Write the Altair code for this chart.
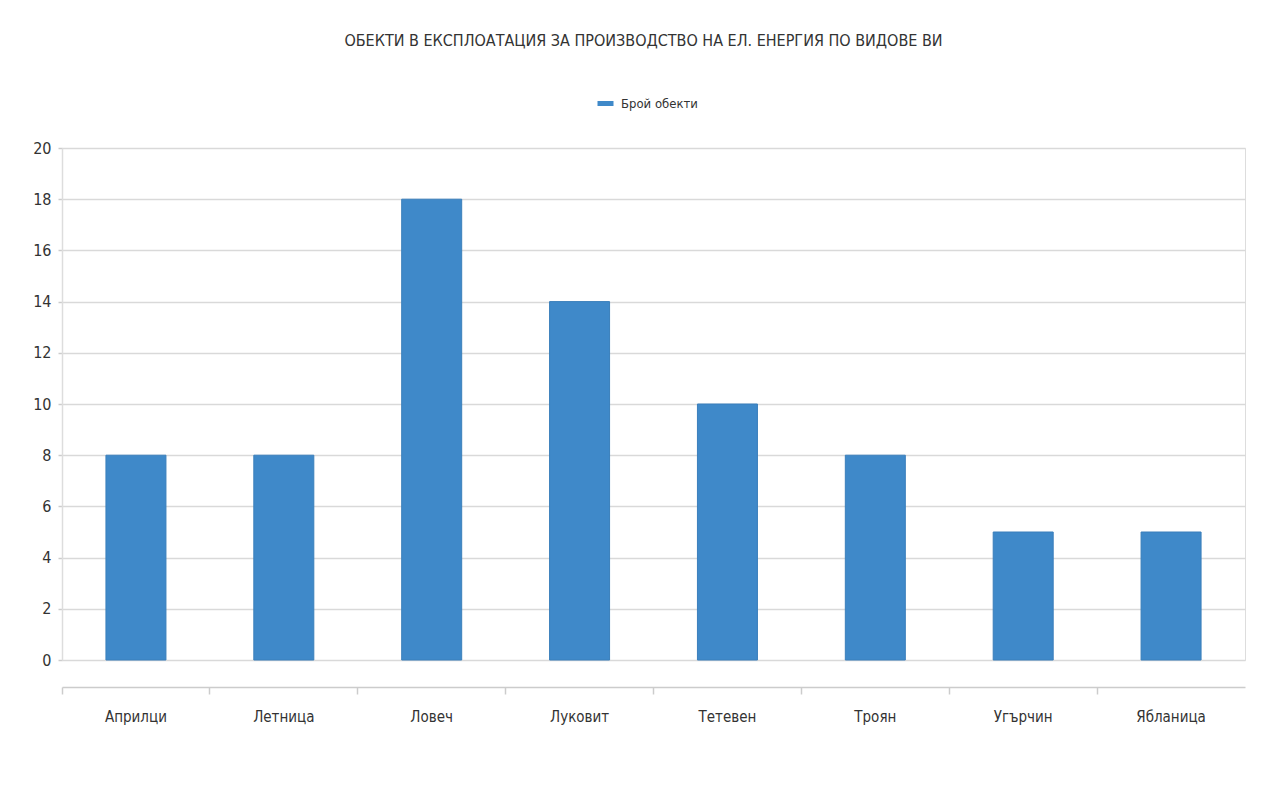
import altair as alt
import pandas as pd

categories = ["Априлци", "Летница", "Ловеч", "Луковит", "Тетевен", "Троян", "Угърчин", "Ябланица"]
values = [8, 8, 18, 14, 10, 8, 5, 5]
series_name = "Брой обекти"
y_ticks = [0, 2, 4, 6, 8, 10, 12, 14, 16, 18, 20]
title_text = "ОБЕКТИ В ЕКСПЛОАТАЦИЯ ЗА ПРОИЗВОДСТВО НА ЕЛ. ЕНЕРГИЯ ПО ВИДОВЕ ВИ"

df = pd.DataFrame({"Община": categories, "Брой": values, "Серия": [series_name] * len(categories)})

FONT = "Liberation Sans Narrow, Arial Narrow, DejaVu Sans Condensed, sans-serif"
BLUE = "#3f89c9"

chart = alt.Chart(df).mark_bar(size=60, color=BLUE, stroke="#3a7fbb", strokeWidth=1).encode(
    x=alt.X("Община:N", sort=categories,
            scale=alt.Scale(paddingInner=0, paddingOuter=0),
            axis=alt.Axis(title=None, labelAngle=0, bandPosition=0, offset=27,
                          domainColor="#cccccc", domainWidth=1.5, tickColor="#cccccc", tickSize=7,
                          tickWidth=1.5, labelPadding=15, labelFontSize=15, labelColor="#333333",
                          labelFont=FONT, labelAlign="center", grid=False)),
    y=alt.Y("Брой:Q", scale=alt.Scale(domain=[0, 20], nice=False),
            axis=alt.Axis(title=None, values=y_ticks, tickSize=4, tickColor="#cccccc", tickWidth=1.5,
                          domainColor="#dddddd", domainWidth=1.5, labelPadding=7, labelFontSize=16,
                          labelColor="#333333", labelFont=FONT, gridColor="#d9d9d9", gridWidth=1.5)),
    color=alt.Color("Серия:N", scale=alt.Scale(range=[BLUE]),
                    legend=alt.Legend(title=None, orient="none", legendX=533, legendY=-55,
                                      symbolType="stroke", symbolStrokeWidth=5, symbolSize=256,
                                      symbolStrokeColor=BLUE, labelFont=FONT, labelFontSize=13,
                                      labelColor="#333333", labelOffset=5)),
).properties(
    width=1183, height=512,
    autosize=alt.AutoSizeParams(type="none"),
    padding={"left": 54, "top": 140, "right": 10, "bottom": 113},
    title=alt.TitleParams(title_text, font=FONT, fontSize=16, fontWeight="normal", color="#333333",
                          anchor="middle", frame="group", offset=44, dx=-10),
).configure_view(stroke=None).configure(background="white")

chart.save("out.html", embed_options={"renderer": "svg", "actions": False})
